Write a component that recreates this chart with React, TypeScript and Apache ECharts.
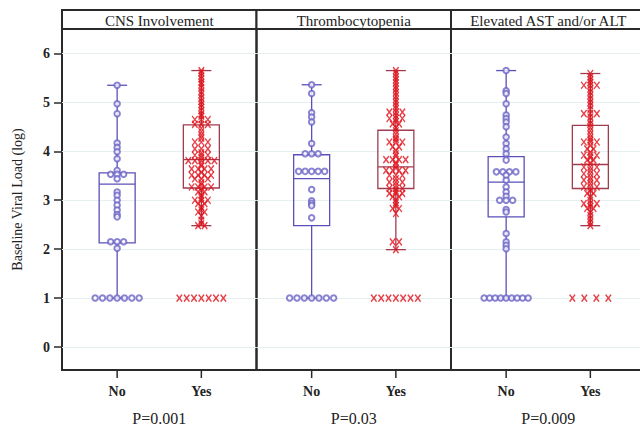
import React, { useEffect, useRef } from "react";
import * as echarts from "echarts";

// ---------- data ----------
const panels = ["CNS Involvement", "Thrombocytopenia", "Elevated AST and/or ALT"];
const pValues = ["P=0.001", "P=0.03", "P=0.009"];
const groups = ["No", "Yes"];
const yTicks = [0, 1, 2, 3, 4, 5, 6];
const LOD = 1; // values at the detection limit are spread out horizontally

const cnsNo = [5.35, 4.97, 4.77, 4.17, 4.08, 3.99, 3.85, 3.61, 3.53, 3.53, 3.53, 3.44, 3.17, 3.1, 3.0, 2.9, 2.8, 2.71, 2.66, 2.15, 2.15, 2.15, 2.02, 1, 1, 1, 1, 1, 1, 1];
const cnsYes = [5.65, 5.6, 5.54, 5.48, 5.41, 5.36, 5.3, 5.22, 5.16, 5.09, 5.02, 4.96, 4.9, 4.83, 4.76, 4.72,
  4.65, 4.65, 4.65, 4.55, 4.55, 4.55, 4.47, 4.4, 4.33, 4.27, 4.19, 4.19, 4.19, 4.05, 4.05, 4.05, 3.97,
  3.92, 3.92, 3.92, 3.87, 3.81, 3.81, 3.81, 3.81, 3.81, 3.74, 3.7, 3.64, 3.64, 3.64, 3.64, 3.57,
  3.51, 3.51, 3.51, 3.51, 3.44, 3.44, 3.44, 3.36, 3.31, 3.27, 3.27, 3.27, 3.27, 3.21, 3.17, 3.17, 3.1, 3.05,
  3.0, 3.0, 3.0, 2.93, 2.93, 2.86, 2.8, 2.76, 2.76, 2.68, 2.59, 2.52, 2.48, 2.48, 1, 1, 1, 1, 1, 1, 1];
const thrNo = [5.36, 5.18, 4.79, 4.7, 4.6, 4.16, 3.95, 3.95, 3.95, 3.59, 3.59, 3.59, 3.59, 3.59, 3.22, 2.99, 2.94, 2.89, 2.64, 1, 1, 1, 1, 1, 1, 1];
const thrYes = [5.65, 5.59, 5.52, 5.46, 5.4, 5.33, 5.27, 5.2, 5.13, 5.06, 5.0, 4.93, 4.87,
  4.8, 4.8, 4.8, 4.73, 4.67, 4.67, 4.67, 4.61, 4.56, 4.56, 4.49, 4.42, 4.35, 4.28, 4.24,
  4.19, 4.19, 4.19, 4.09, 4.09, 4.02, 3.95, 3.9, 3.83, 3.83, 3.83, 3.83, 3.77, 3.72, 3.66,
  3.61, 3.61, 3.61, 3.61, 3.51, 3.51, 3.51, 3.44, 3.37, 3.37, 3.37, 3.3, 3.24, 3.24, 3.24, 3.19,
  3.14, 3.14, 3.14, 3.07, 3.07, 3.01, 2.95, 2.89, 2.83, 2.83, 2.73, 2.15, 2.15, 1.99, 1, 1, 1, 1, 1, 1, 1];
const astNo = [5.65, 5.24, 5.18, 4.97, 4.74, 4.67, 4.6, 4.5, 4.29, 4.16, 4.05, 3.95, 3.82, 3.58, 3.58, 3.58, 3.58, 3.51, 3.41, 3.27, 3.17, 3.08, 3.0, 3.0, 3.0, 2.81, 2.76, 2.32, 2.15, 2.08, 2.01, 1, 1, 1, 1, 1, 1, 1, 1, 1];
const astYes = [5.59, 5.52, 5.46, 5.41, 5.35, 5.35, 5.35, 5.28, 5.21, 5.14, 5.07, 5.0, 4.93, 4.86,
  4.77, 4.77, 4.77, 4.7, 4.63, 4.56, 4.49, 4.42, 4.35, 4.28, 4.23, 4.19, 4.19, 4.19, 4.12, 4.05, 4.05, 3.98,
  3.92, 3.92, 3.92, 3.87, 3.82, 3.82, 3.76, 3.68, 3.68, 3.68, 3.61, 3.54, 3.54, 3.54, 3.47,
  3.41, 3.41, 3.41, 3.34, 3.27, 3.27, 3.27, 3.2, 3.14, 3.14, 3.07, 3.0, 2.93, 2.93, 2.93, 2.87,
  2.83, 2.83, 2.76, 2.69, 2.62, 2.55, 2.48, 1, 1, 1, 1];

// box statistics [min, Q1, median, Q3, max]
const cnsBoxNo = [1.0, 2.13, 3.33, 3.56, 5.35];
const cnsBoxYes = [2.48, 3.25, 3.83, 4.54, 5.65];
const thrBoxNo = [1.0, 2.48, 3.44, 3.93, 5.36];
const thrBoxYes = [1.99, 3.24, 3.68, 4.43, 5.65];
const astBoxNo = [1.0, 2.66, 3.37, 3.89, 5.65];
const astBoxYes = [2.48, 3.24, 3.73, 4.53, 5.59];

const noPoints = [cnsNo, thrNo, astNo];
const yesPoints = [cnsYes, thrYes, astYes];
const boxesNo = [cnsBoxNo, thrBoxNo, astBoxNo];
const boxesYes = [cnsBoxYes, thrBoxYes, astBoxYes];

// ---------- layout / style ----------
const PANEL_LEFT = 62;
const PANEL_W = 194.5;
const TOP = 29;
const BOTTOM = 56;
const HEADER_TOP = 10;
const X_MIN = 0.345;
const X_MAX = 2.655;
const Y_MIN = -0.47;
const Y_MAX = 6.5;
const BOX_W = 36;
const CAP_W = 20;
const TICK_LEN = 8;
const FONT = "Liberation Serif, DejaVu Serif, serif";
const INK = "#2a2a2a";
const BLUE = "#5a50b8";
const BLUE_PT = "#6c64c6";
const RED = "#e0121c";
const RED_BOX = "#a03c50";
const GRIDLINE = "#e6eef0";
const X_SYMBOL = "path://M0,0L8,10M8,0L0,10";

function spread(values: number[], xPos: number) {
  const counts = new Map<number, number>();
  values.forEach((v) => counts.set(v, (counts.get(v) || 0) + 1));
  const seen = new Map<number, number>();
  return values.map((v) => {
    const n = counts.get(v) as number;
    const k = seen.get(v) || 0;
    seen.set(v, k + 1);
    const step = v === LOD ? Math.min(12, 44 / Math.max(1, n - 1)) : 6.5;
    return { value: [xPos, v], symbolOffset: [(k - (n - 1) / 2) * step, 0] };
  });
}

function buildOption() {
  const grid: any[] = [];
  const xAxis: any[] = [];
  const yAxis: any[] = [];
  const series: any[] = [];
  const graphic: any[] = [];

  panels.forEach((title, i) => {
    const left = PANEL_LEFT + i * PANEL_W;
    grid.push({
      left, top: TOP, width: PANEL_W, bottom: BOTTOM,
      containLabel: false, outerBoundsMode: "none",
      show: true, borderColor: INK, borderWidth: 2,
    });
    xAxis.push({
      type: "value", gridIndex: i, min: X_MIN, max: X_MAX,
      axisLine: { show: false, onZero: false },
      splitLine: { show: false },
      axisTick: { show: false },
      axisLabel: {
        customValues: [1, 2], margin: 14,
        formatter: (v: number) => groups[Math.round(v) - 1] || "",
        fontFamily: FONT, fontSize: 14, fontWeight: "bold", color: "#222",
      },
      name: pValues[i], nameLocation: "middle", nameGap: 40,
      nameTextStyle: { fontFamily: FONT, fontSize: 16, color: "#222" },
    });
    yAxis.push({
      type: "value", gridIndex: i, min: Y_MIN, max: Y_MAX,
      axisLine: { show: false, onZero: false },
      axisTick: { show: i === 0, customValues: yTicks, length: 8, lineStyle: { color: INK, width: 1.5 } },
      axisLabel: { show: i === 0, customValues: yTicks, margin: 12, fontFamily: FONT, fontSize: 14, fontWeight: "bold", color: "#222" },
      splitLine: { show: true, lineStyle: { color: GRIDLINE, width: 1 } },
      name: i === 0 ? "Baseline Viral Load (log)" : "",
      nameLocation: "middle", nameGap: 38,
      nameTextStyle: { fontFamily: FONT, fontSize: 14, color: "#222" },
    });

    const boxColors = [BLUE, RED_BOX];
    series.push({
      type: "custom", xAxisIndex: i, yAxisIndex: i, z: 2, clip: false,
      data: [[1, ...boxesNo[i]], [2, ...boxesYes[i]]],
      encode: { x: 0, y: [1, 2, 3, 4, 5] },
      renderItem: (params: any, api: any) => {
        const x = api.value(0);
        const pMin = api.coord([x, api.value(1)]);
        const pQ1 = api.coord([x, api.value(2)]);
        const pMed = api.coord([x, api.value(3)]);
        const pQ3 = api.coord([x, api.value(4)]);
        const pMax = api.coord([x, api.value(5)]);
        const pBase = api.coord([x, Y_MIN]);
        const style = { stroke: boxColors[params.dataIndex], lineWidth: 1.3, fill: "none" };
        const h = BOX_W / 2;
        const c = CAP_W / 2;
        return {
          type: "group",
          children: [
            { type: "line", shape: { x1: pMax[0], y1: pMax[1], x2: pQ3[0], y2: pQ3[1] }, style },
            { type: "line", shape: { x1: pQ1[0], y1: pQ1[1], x2: pMin[0], y2: pMin[1] }, style },
            { type: "line", shape: { x1: pMax[0] - c, y1: pMax[1], x2: pMax[0] + c, y2: pMax[1] }, style },
            { type: "line", shape: { x1: pMin[0] - c, y1: pMin[1], x2: pMin[0] + c, y2: pMin[1] }, style },
            { type: "rect", shape: { x: pQ3[0] - h, y: pQ3[1], width: BOX_W, height: pQ1[1] - pQ3[1] }, style },
            { type: "line", shape: { x1: pMed[0] - h, y1: pMed[1], x2: pMed[0] + h, y2: pMed[1] }, style },
            // category tick mark under the panel
            { type: "line", shape: { x1: pBase[0], y1: pBase[1] + 1, x2: pBase[0], y2: pBase[1] + TICK_LEN }, style: { stroke: INK, lineWidth: 1.5 } },
          ],
        };
      },
    });
    series.push({
      type: "scatter", xAxisIndex: i, yAxisIndex: i, z: 3,
      symbol: "emptyCircle", symbolSize: 5.5,
      itemStyle: { color: BLUE_PT, borderColor: BLUE_PT, borderWidth: 1 },
      data: spread(noPoints[i], 1),
    });
    series.push({
      type: "scatter", xAxisIndex: i, yAxisIndex: i, z: 4,
      symbol: X_SYMBOL, symbolSize: [5.5, 7],
      itemStyle: { color: "rgba(0,0,0,0)", borderColor: RED, borderWidth: 1.4 },
      data: spread(yesPoints[i], 2),
    });

    graphic.push({
      type: "rect", z: 10,
      shape: { x: left, y: HEADER_TOP, width: PANEL_W, height: TOP - HEADER_TOP },
      style: { fill: "#fff", stroke: INK, lineWidth: 2 },
    });
    graphic.push({
      type: "text", z: 11, x: left + PANEL_W / 2, y: (HEADER_TOP + TOP) / 2 + 1,
      style: { text: title, align: "center", verticalAlign: "middle", fontFamily: FONT, fontSize: 15, fill: "#222" },
    });
  });

  return { animation: false, backgroundColor: "#fff", grid, xAxis, yAxis, series, graphic };
}

export default function App() {
  const ref = useRef<HTMLDivElement>(null);
  useEffect(() => {
    if (!ref.current) return;
    const chart = echarts.init(ref.current, undefined, { renderer: "svg" });
    chart.setOption(buildOption() as any);
    return () => chart.dispose();
  }, []);
  return <div ref={ref} style={{ position: "fixed", left: 0, top: 0, width: 640, height: 426, background: "#fff" }} />;
}
